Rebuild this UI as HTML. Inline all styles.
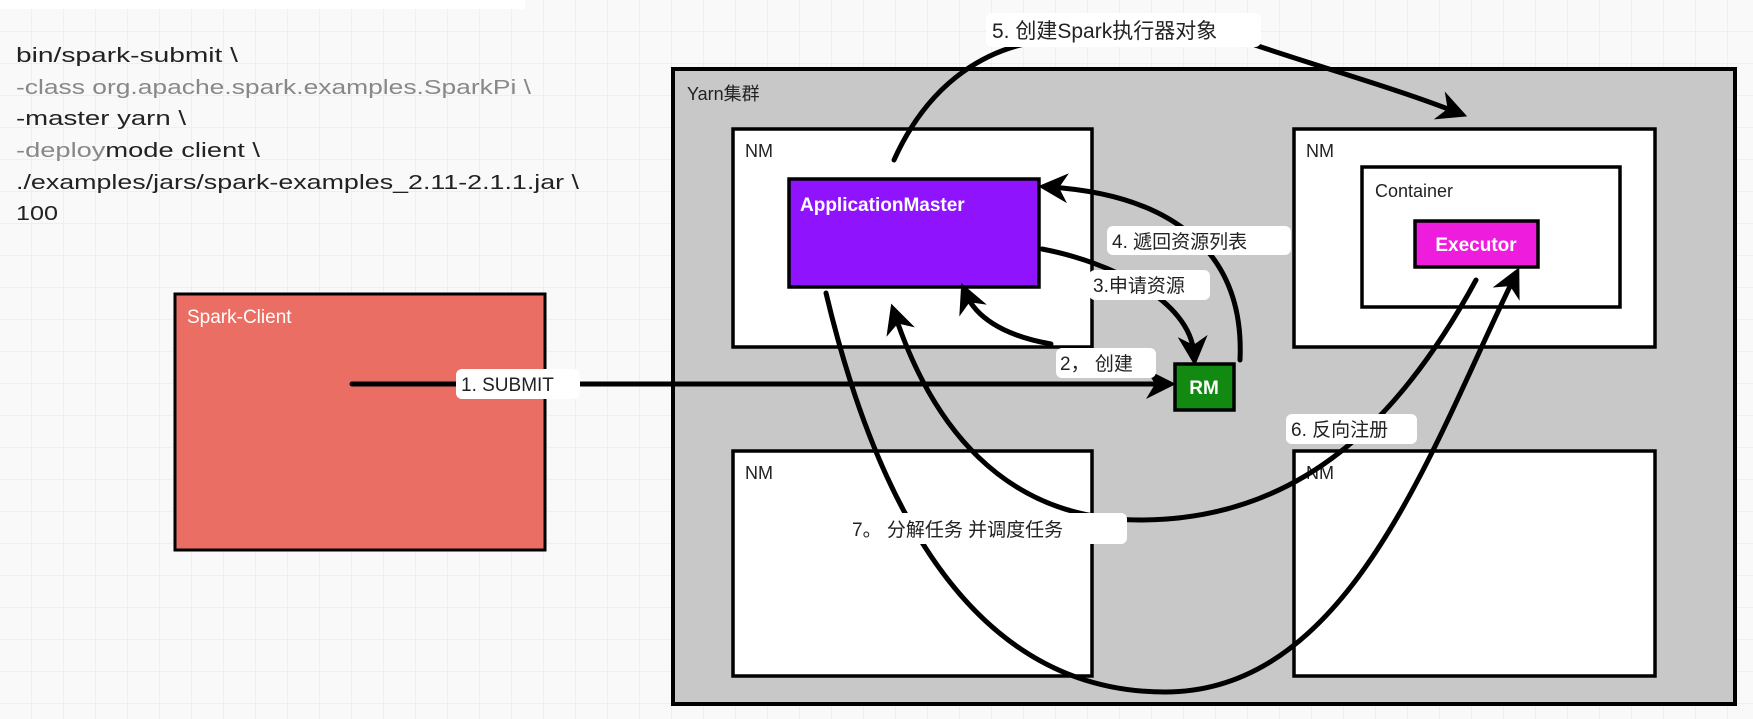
<!DOCTYPE html>
<html><head><meta charset="utf-8"><style>
html,body{margin:0;padding:0;background:#fafafa;}
svg{display:block;}
text{font-family:"Liberation Sans","Noto Sans CJK SC",sans-serif;}
</style></head><body>
<svg width="1753" height="719" viewBox="0 0 1753 719" xmlns="http://www.w3.org/2000/svg">
<defs>
<pattern id="g" width="32" height="32" patternUnits="userSpaceOnUse">
<path d="M32 0V32M0 32H32" stroke="#ececec" stroke-width="1.5" fill="none"/>
</pattern>
<marker id="a" viewBox="0 0 10 10" refX="6" refY="5" markerWidth="6" markerHeight="6" orient="auto-start-reverse">
<path d="M0 0L10 5L0 10L3 5Z" fill="#000"/>
</marker>
</defs>
<rect width="1753" height="719" fill="#f9f9f9"/>
<rect width="1753" height="719" fill="url(#g)"/>
<rect x="0" y="0" width="525" height="9" fill="#fff"/>

<g font-size="20" fill="#222">
<text x="16" y="62" textLength="222" lengthAdjust="spacingAndGlyphs">bin/spark-submit \</text>
<text x="16" y="94" fill="#888" textLength="515" lengthAdjust="spacingAndGlyphs">-class org.apache.spark.examples.SparkPi \</text>
<text x="16" y="125" textLength="170" lengthAdjust="spacingAndGlyphs">-master yarn \</text>
<text x="16" y="157" textLength="244" lengthAdjust="spacingAndGlyphs"><tspan fill="#888">-deploy</tspan>mode client \</text>
<text x="16" y="189" textLength="563" lengthAdjust="spacingAndGlyphs">./examples/jars/spark-examples_2.11-2.1.1.jar \</text>
<text x="16" y="220" textLength="42" lengthAdjust="spacingAndGlyphs">100</text>
</g>

<rect x="175" y="294" width="370" height="256" fill="#ea6e63" stroke="#000" stroke-width="3"/>
<text x="187" y="323" font-size="19" fill="#fff">Spark-Client</text>

<rect x="673" y="69" width="1062" height="635" fill="#c8c8c8" stroke="#000" stroke-width="4"/>
<text x="687" y="100" font-size="18" fill="#222">Yarn集群</text>

<g fill="#fff" stroke="#000" stroke-width="3.5">
<rect x="733" y="129" width="359" height="218"/>
<rect x="1294" y="129" width="361" height="218"/>
<rect x="733" y="451" width="359" height="225"/>
<rect x="1294" y="451" width="361" height="225"/>
<rect x="1362" y="167" width="258" height="140"/>
</g>
<g font-size="18" fill="#222">
<text x="745" y="157">NM</text>
<text x="1306" y="157">NM</text>
<text x="745" y="479">NM</text>
<text x="1306" y="479">NM</text>
<text x="1375" y="197">Container</text>
</g>
<rect x="1415" y="221" width="123" height="46" fill="#ee1ddd" stroke="#000" stroke-width="3.5"/>
<text x="1476" y="251" font-size="19" fill="#fff" text-anchor="middle" font-weight="bold">Executor</text>

<rect x="789" y="179" width="250" height="108" fill="#9013fe" stroke="#000" stroke-width="3.5"/>
<text x="800" y="211" font-size="19" fill="#fff" font-weight="bold">ApplicationMaster</text>

<rect x="1175" y="364" width="59" height="46" fill="#128a12" stroke="#000" stroke-width="3.5"/>
<text x="1204" y="394" font-size="19" fill="#fff" text-anchor="middle" font-weight="bold">RM</text>

<g fill="none" stroke="#000" stroke-width="5" stroke-linecap="round">
<path d="M352 384 L1164 384" marker-end="url(#a)"/>
<path d="M894 160 C 930 80, 990 45, 1050 40"/>
<path d="M1255 45 C 1330 70, 1400 90, 1456 112" marker-end="url(#a)"/>
<path d="M1240 360 C 1245 250, 1170 195, 1050 187" marker-end="url(#a)"/>
<path d="M1042 249 C 1110 262, 1190 300, 1194 354" marker-end="url(#a)"/>
<path d="M1051 344 C 1000 335, 975 315, 966 294" marker-end="url(#a)"/>
<path d="M1476 280 C 1400 420, 1300 520, 1140 520 C 1000 520, 930 420, 895 315" marker-end="url(#a)"/>
<path d="M826 293 C 880 520, 980 692, 1165 692 C 1350 692, 1430 450, 1514 278" marker-end="url(#a)"/>
</g>

<g font-size="19" fill="#222">
<rect x="456" y="369" width="124" height="30" rx="6" fill="#fff"/>
<text x="461" y="391">1. SUBMIT</text>
<rect x="986" y="13" width="275" height="34" rx="6" fill="#fff"/>
<text x="992" y="38" font-size="21">5. 创建Spark执行器对象</text>
<rect x="1107" y="226" width="184" height="29" rx="6" fill="#fff"/>
<text x="1112" y="248">4. 遞回资源列表</text>
<rect x="1089" y="270" width="121" height="30" rx="6" fill="#fff"/>
<text x="1093" y="292">3.申请资源</text>
<rect x="1056" y="348" width="100" height="30" rx="6" fill="#fff"/>
<text x="1060" y="370">2，  创建</text>
<rect x="1286" y="414" width="131" height="30" rx="6" fill="#fff"/>
<text x="1291" y="436">6. 反向注册</text>
<rect x="846" y="513" width="281" height="31" rx="6" fill="#fff"/>
<text x="852" y="536">7。 分解任务 并调度任务</text>
</g>
</svg>
</body></html>
